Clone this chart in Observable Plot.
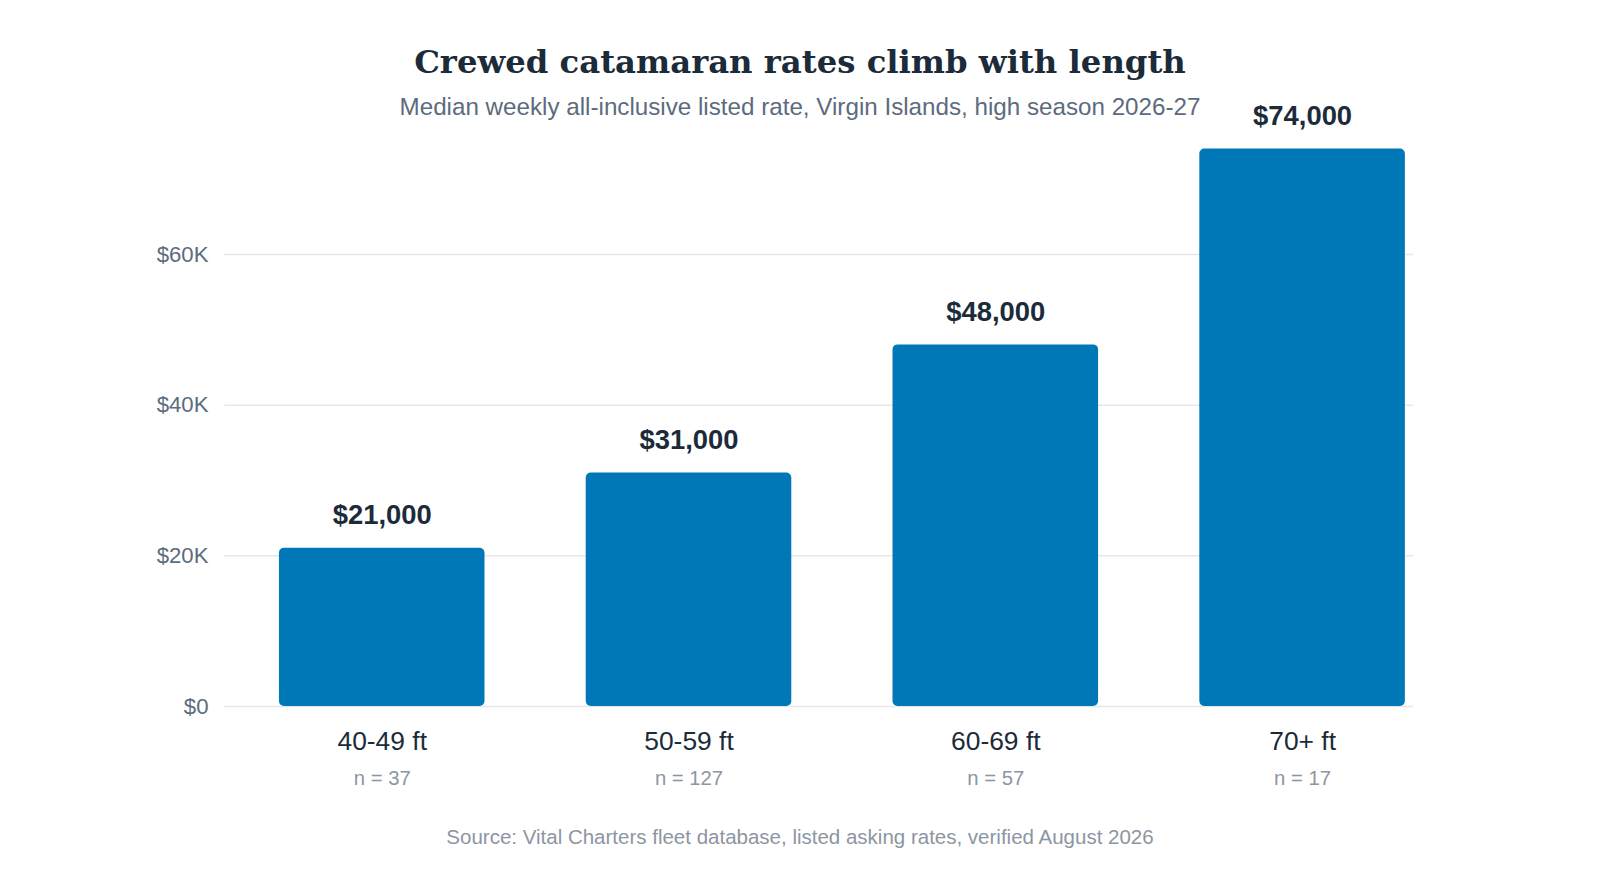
<!DOCTYPE html>
<html>
<head>
<meta charset="utf-8">
<script src="https://cdn.jsdelivr.net/npm/d3@7"></script>
<script src="https://cdn.jsdelivr.net/npm/@observablehq/plot@0.6"></script>
<style>
  html, body { margin: 0; padding: 0; background: #ffffff; }
  #wrap { position: relative; width: 1600px; height: 893px; overflow: hidden; }
  #title { position: absolute; left: 0; width: 1600px; top: 38px; text-align: center;
    font-family: "DejaVu Serif", Georgia, serif; font-weight: bold; font-size: 32.3px;
    color: #1c2b3a; line-height: 48px; white-space: nowrap; }
  #subtitle { position: absolute; left: 0; width: 1600px; top: 93px; text-align: center;
    font-family: "Liberation Sans", Arial, sans-serif; font-size: 24.2px; color: #5c6b7d;
    line-height: 28px; white-space: nowrap; }
  #caption { position: absolute; left: 0; width: 1600px; top: 824px; text-align: center;
    font-family: "Liberation Sans", Arial, sans-serif; font-size: 20.5px; color: #8c96a2;
    line-height: 26px; white-space: nowrap; }
  #chart { position: absolute; left: 0; top: 0; }
  #chart svg { overflow: visible; }
</style>
</head>
<body>
<div id="wrap">
  <div id="chart"></div>
  <div id="title">Crewed catamaran rates climb with length</div>
  <div id="subtitle">Median weekly all-inclusive listed rate, Virgin Islands, high season 2026-27</div>
  <div id="caption">Source: Vital Charters fleet database, listed asking rates, verified August 2026</div>
</div>
<script>
const categories = ["40-49 ft", "50-59 ft", "60-69 ft", "70+ ft"];
const rates = [21000, 31000, 48000, 74000];
const counts = [37, 127, 57, 17];
const yTicks = [0, 20000, 40000, 60000];
const yTickLabels = ["$0", "$20K", "$40K", "$60K"];

const data = categories.map((c, i) => ({ cat: c, rate: rates[i], n: counts[i] }));
const fmtDollar = d3.format("$,.0f");

const chart = Plot.plot({
  width: 1600,
  height: 893,
  marginLeft: 224.5,
  marginRight: 187,
  marginTop: 103.3,
  marginBottom: 187,
  style: { fontFamily: "'Liberation Sans', Arial, sans-serif", background: "transparent" },
  x: { domain: categories, paddingInner: 0.33, paddingOuter: 0.102, align: 0.87, round: false, label: null },
  y: { domain: [0, 80000], label: null },
  marks: [
    Plot.ruleY(yTicks, { stroke: "#e5e7ea", strokeWidth: 1.5 }),
    Plot.barY(data, { x: "cat", y: "rate", fill: "#0077b6", rx: 5 }),
    Plot.text(data, { x: "cat", y: "rate", text: d => fmtDollar(d.rate), dy: -33,
      fontSize: 27.4, fontWeight: "bold", fill: "#1c2b3a" }),
    Plot.axisY(yTicks, { tickSize: 0, tickPadding: 16.5, fontSize: 22.2, fill: "#5c6b7d",
      tickFormat: d => yTickLabels[yTicks.indexOf(d)], label: null }),
    Plot.axisX({ tickSize: 0, tickPadding: 25, fontSize: 26.4, fill: "#1c2b3a", label: null }),
    Plot.text(data, { x: "cat", text: d => `n = ${d.n}`, frameAnchor: "bottom", dy: 78,
      fontSize: 20.3, fill: "#8c96a2" })
  ]
});
document.getElementById("chart").appendChild(chart);
</script>
</body>
</html>
